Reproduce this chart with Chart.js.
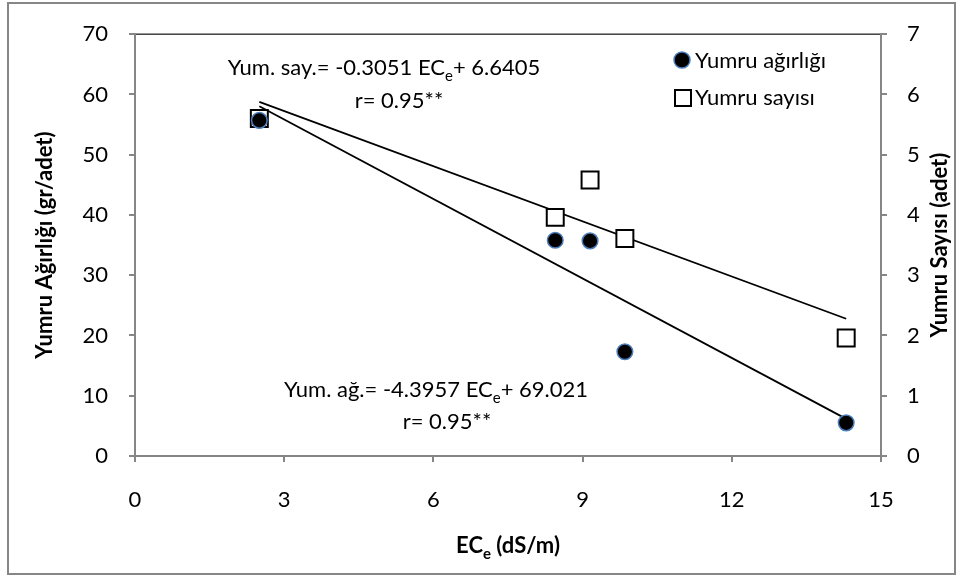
<!DOCTYPE html>
<html>
<head>
<meta charset="utf-8">
<title>Yumru ağırlığı ve sayısı - ECe</title>
<script src="https://cdn.jsdelivr.net/npm/chart.js@4.4.1/dist/chart.umd.min.js"></script>
<style>
  html, body { margin: 0; padding: 0; background: #ffffff; }
  #wrap { position: relative; width: 965px; height: 579px; }
  canvas { display: block; }
</style>
</head>
<body>
<div id="wrap"><canvas id="chart" width="965" height="579"></canvas></div>
<script>
// Soil salinity (ECe, dS/m) for each treatment
const ecValues = [2.5, 8.45, 9.15, 9.85, 14.3];
// Tuber weight (g per tuber) - left axis
const tuberWeight = [55.7, 35.8, 35.7, 17.3, 5.5];
// Tuber count (per plant) - right axis
const tuberCount = [5.6, 3.96, 4.58, 3.61, 1.96];
// Regression lines as printed on the chart: [slope, intercept]
const weightFit = [-4.3957, 69.021];
const countFit = [-0.3051, 6.6405];
// Axis ticks
const xTicks = [0, 3, 6, 9, 12, 15];
const weightTicks = [0, 10, 20, 30, 40, 50, 60, 70];
const countTicks = [0, 1, 2, 3, 4, 5, 6, 7];

const FONT = "Lato, 'Open Sans', 'DejaVu Sans', sans-serif";
const SIZE = 22;
const AXIS_GREY = '#868686';
const DOT_RING = '#4a7ebb';

const points = (xs, ys) => xs.map((x, i) => ({ x: x, y: ys[i] }));
const fitLine = (fit) => {
  const x0 = Math.min(...ecValues), x1 = Math.max(...ecValues);
  return [{ x: x0, y: fit[0] * x0 + fit[1] }, { x: x1, y: fit[0] * x1 + fit[1] }];
};

// Text with an "e" subscript after "EC": parts = [before, sub, after]
function drawSubText(ctx, parts, cx, baseline, size, weight) {
  const main = weight + ' ' + size + 'px ' + FONT;
  const small = weight + ' ' + Math.round(size * 0.68) + 'px ' + FONT;
  ctx.font = main; const w0 = ctx.measureText(parts[0]).width;
  ctx.font = small; const w1 = ctx.measureText(parts[1]).width;
  ctx.font = main; const w2 = ctx.measureText(parts[2]).width;
  let x = cx - (w0 + w1 + w2) / 2;
  ctx.textAlign = 'left'; ctx.textBaseline = 'alphabetic';
  ctx.font = main; ctx.fillText(parts[0], x, baseline); x += w0;
  ctx.font = small; ctx.fillText(parts[1], x, baseline + size * 0.28); x += w1;
  ctx.font = main; ctx.fillText(parts[2], x, baseline);
}

const decorations = {
  id: 'decorations',
  beforeDraw(chart) {
    const { ctx, chartArea: a } = chart;
    ctx.save();
    ctx.fillStyle = '#ffffff';
    ctx.fillRect(0, 0, chart.width, chart.height);
    // outer frame
    ctx.strokeStyle = AXIS_GREY; ctx.lineWidth = 2;
    ctx.strokeRect(8, 3, 947, 571);
    // plot area frame
    ctx.strokeStyle = '#404040'; ctx.lineWidth = 1.5;
    ctx.strokeRect(a.left, a.top, a.right - a.left, a.bottom - a.top);
    ctx.restore();
  },
  afterDraw(chart) {
    const { ctx, chartArea: a } = chart;
    ctx.save();
    ctx.fillStyle = '#000000';
    // regression equations
    drawSubText(ctx, ['Yum. say.= ' + countFit[0] + ' EC', 'e', '+ ' + countFit[1]], 384, 75, SIZE, 'normal');
    ctx.font = 'normal ' + SIZE + 'px ' + FONT; ctx.textAlign = 'center';
    ctx.fillText('r= 0.95**', 399, 108);
    drawSubText(ctx, ['Yum. ağ.= ' + weightFit[0] + ' EC', 'e', '+ ' + weightFit[1]], 436, 397, SIZE, 'normal');
    ctx.font = 'normal ' + SIZE + 'px ' + FONT; ctx.textAlign = 'center';
    ctx.fillText('r= 0.95**', 447, 429);
    // x axis title
    drawSubText(ctx, ['EC', 'e', ' (dS/m)'], 508, 553, SIZE, 'bold');
    // right axis title, reading bottom to top
    ctx.save();
    ctx.translate(940, (a.top + a.bottom) / 2);
    ctx.rotate(-Math.PI / 2);
    ctx.font = 'bold ' + SIZE + 'px ' + FONT;
    ctx.textAlign = 'center'; ctx.textBaseline = 'middle';
    ctx.fillText('Yumru Sayısı (adet)', 0, 0);
    ctx.restore();
    // legend
    const ds = chart.data.datasets;
    ctx.beginPath(); ctx.arc(682, 60, 8, 0, Math.PI * 2);
    ctx.fillStyle = ds[0].pointBackgroundColor; ctx.fill();
    ctx.strokeStyle = ds[0].pointBorderColor; ctx.lineWidth = 1.5; ctx.stroke();
    ctx.fillStyle = '#ffffff'; ctx.fillRect(675, 90, 16, 16);
    ctx.strokeStyle = ds[1].pointBorderColor; ctx.lineWidth = 2; ctx.strokeRect(675, 90, 16, 16);
    ctx.fillStyle = '#000000'; ctx.font = 'normal ' + SIZE + 'px ' + FONT;
    ctx.textAlign = 'left'; ctx.textBaseline = 'alphabetic';
    ctx.fillText(ds[0].label, 695, 68);
    ctx.fillText(ds[1].label, 695, 105);
    ctx.restore();
  }
};

const tickFont = { family: FONT, size: SIZE };
const titleFont = { family: FONT, size: SIZE, weight: 'bold' };

new Chart(document.getElementById('chart'), {
  type: 'scatter',
  data: {
    datasets: [
      {
        label: 'Yumru ağırlığı',
        data: points(ecValues, tuberWeight),
        yAxisID: 'y',
        pointStyle: 'circle',
        pointRadius: 7.8,
        pointHoverRadius: 7.8,
        pointBackgroundColor: '#000000',
        pointBorderColor: DOT_RING,
        pointBorderWidth: 1.5,
        order: 0
      },
      {
        label: 'Yumru sayısı',
        data: points(ecValues, tuberCount),
        yAxisID: 'y2',
        pointStyle: 'rect',
        pointRadius: 12,
        pointHoverRadius: 12,
        pointBackgroundColor: '#ffffff',
        pointBorderColor: '#000000',
        pointBorderWidth: 2,
        order: 1
      },
      {
        type: 'line',
        label: 'Yum. ağ. trend',
        data: fitLine(weightFit),
        yAxisID: 'y',
        borderColor: '#000000',
        borderWidth: 1.8,
        pointRadius: 0,
        fill: false,
        order: 2
      },
      {
        type: 'line',
        label: 'Yum. say. trend',
        data: fitLine(countFit),
        yAxisID: 'y2',
        borderColor: '#000000',
        borderWidth: 1.8,
        pointRadius: 0,
        fill: false,
        order: 2
      }
    ]
  },
  options: {
    responsive: false,
    animation: false,
    events: [],
    layout: { padding: { top: 32, left: 0, right: 0, bottom: 0 } },
    plugins: { legend: { display: false }, tooltip: { enabled: false } },
    scales: {
      x: {
        type: 'linear', position: 'bottom', min: 0, max: 15,
        afterBuildTicks: (s) => { s.ticks = xTicks.map(v => ({ value: v })); },
        afterFit: (s) => { s.height = 123; },
        ticks: { font: tickFont, color: '#000000', padding: 25 },
        grid: { drawOnChartArea: false, drawTicks: true, tickLength: 6, color: AXIS_GREY, lineWidth: 2 },
        border: { display: true, color: AXIS_GREY, width: 2 },
        title: { display: false }
      },
      y: {
        type: 'linear', position: 'left', min: 0, max: 70,
        afterBuildTicks: (s) => { s.ticks = weightTicks.map(v => ({ value: v })); },
        afterFit: (s) => { s.width = 135; },
        ticks: { font: tickFont, color: '#000000', padding: 21 },
        grid: { drawOnChartArea: false, drawTicks: true, tickLength: 6, color: AXIS_GREY, lineWidth: 2 },
        border: { display: true, color: AXIS_GREY, width: 2 },
        title: { display: true, text: 'Yumru Ağırlığı (gr/adet)', font: titleFont, color: '#000000', padding: { top: 32, bottom: 0 } }
      },
      y2: {
        type: 'linear', position: 'right', min: 0, max: 7,
        afterBuildTicks: (s) => { s.ticks = countTicks.map(v => ({ value: v })); },
        afterFit: (s) => { s.width = 84; },
        ticks: { font: tickFont, color: '#000000', padding: 20 },
        grid: { drawOnChartArea: false, drawTicks: true, tickLength: 6, color: AXIS_GREY, lineWidth: 2 },
        border: { display: true, color: AXIS_GREY, width: 2 },
        title: { display: false }
      }
    }
  },
  plugins: [decorations]
});
</script>
</body>
</html>
